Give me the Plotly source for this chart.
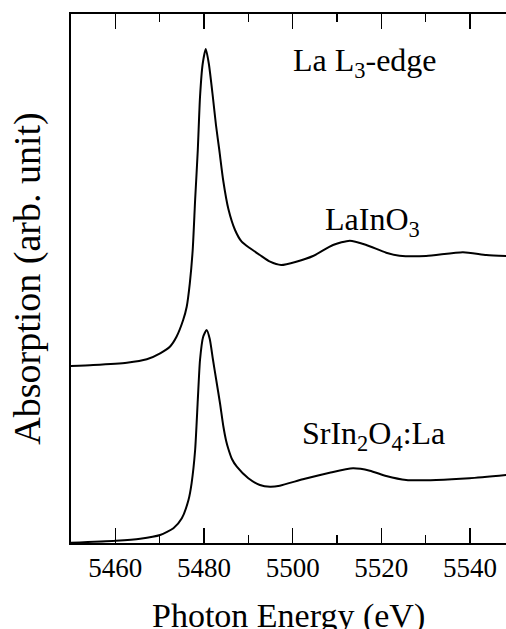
import plotly.graph_objects as go

# LaInO3 spectrum (arb. units, offset)
energy_lainO3 = [5450.0, 5455.0, 5462.6, 5467.1, 5470.1, 5472.3, 5473.8, 5475.3, 5476.1,
                 5476.8, 5477.45, 5478.0, 5478.6, 5479.1, 5479.7, 5480.4, 5481.1, 5482.0,
                 5482.7, 5483.45, 5484.35, 5485.5, 5487.0, 5488.5, 5490.4, 5492.6, 5494.9,
                 5497.4, 5500.8, 5504.6, 5509.1, 5512.9, 5516.6, 5521.1, 5524.1, 5530.1,
                 5538.4, 5543.7, 5548.2]
abs_lainO3 = [177, 178, 180.3, 183.7, 189.7, 196.3, 206.3, 223, 236.3,
              259.7, 293, 343, 393, 446, 479, 494, 479, 446,
              418, 393, 362, 334, 313, 301.3, 294.7, 288, 281.3,
              278, 281.3, 287, 298, 302.3, 298, 290.3, 287.3, 287,
              290.7, 288, 287]

# SrIn2O4:La spectrum (arb. units)
energy_srin2o4 = [5450.0, 5460.1, 5465.6, 5470.1, 5473.1, 5475.0, 5476.5, 5477.2, 5478.0,
                  5478.6, 5479.1, 5479.8, 5480.6, 5481.3, 5482.0, 5482.8, 5483.6, 5484.35,
                  5485.0, 5485.5, 5486.3, 5487.4, 5490.0, 5492.6, 5494.9, 5497.1, 5502.3,
                  5508.35, 5513.6, 5517.4, 5521.1, 5525.6, 5532.4, 5539.9, 5548.2]
abs_srin2o4 = [0.3, 2.3, 4.3, 8, 14.7, 24.7, 43, 59.7, 93,
               143, 183, 206, 213, 204, 184, 162, 140, 117,
               102, 94, 84, 76.3, 64.7, 58, 56.3, 57.3, 63.7,
               70.3, 74.7, 72.3, 67, 63, 63, 64.7, 68]

x_range = [5450, 5548.12]
y_range = [0, 529]
tick_vals = [5460, 5480, 5500, 5520, 5540]
tick_text = ["5460", "5480", "5500", "5520", "5540"]
minor_vals = [5470, 5490, 5510, 5530]

FONT = "Liberation Serif, Times New Roman, serif"

fig = go.Figure()
fig.add_trace(go.Scatter(x=energy_lainO3, y=abs_lainO3, mode="lines",
                         line=dict(color="black", width=2, shape="spline", smoothing=0.6),
                         showlegend=False, hoverinfo="skip"))
fig.add_trace(go.Scatter(x=energy_srin2o4, y=abs_srin2o4, mode="lines",
                         line=dict(color="black", width=2, shape="spline", smoothing=0.6),
                         showlegend=False, hoverinfo="skip"))

fig.update_layout(
    width=506, height=629,
    margin=dict(l=71, r=0, t=14, b=86),
    plot_bgcolor="white", paper_bgcolor="white",
    font=dict(family=FONT, color="black"),
    xaxis=dict(
        automargin=False,
        range=x_range, showgrid=False, zeroline=False,
        showline=True, linecolor="black", linewidth=2, mirror="ticks",
        ticks="inside", ticklen=15, tickwidth=1.5, tickcolor="black",
        tickvals=tick_vals, ticktext=tick_text,
        tickfont=dict(family=FONT, size=27, color="black"),
        minor=dict(ticks="inside", ticklen=8, tickwidth=1.5, tickcolor="black",
                   tickvals=minor_vals),
    ),
    yaxis=dict(
        automargin=False,
        range=y_range, showgrid=False, zeroline=False,
        showline=True, linecolor="black", linewidth=2, mirror=False,
        ticks="", showticklabels=False,
        title=dict(text="Absorption (arb. unit)", font=dict(family=FONT, size=38, color="black"),
                   standoff=17),
    ),
    annotations=[
        dict(text="Photon Energy (eV)", x=0.5, y=-0.138, xref="paper", yref="paper",
             xanchor="center", yanchor="middle", showarrow=False,
             font=dict(family=FONT, size=34, color="black")),
        dict(text="La L<sub>3</sub>-edge", x=5516.4, y=481, xref="x", yref="y",
             showarrow=False, font=dict(family=FONT, size=32, color="black")),
        dict(text="LaInO<sub>3</sub>", x=5518.1, y=322, xref="x", yref="y",
             showarrow=False, font=dict(family=FONT, size=32, color="black")),
        dict(text="SrIn<sub>2</sub>O<sub>4</sub>:La", x=5518.3, y=108, xref="x", yref="y",
             showarrow=False, font=dict(family=FONT, size=32, color="black")),
    ],
)

fig.write_html("out.html",
               config={"displayModeBar": False, "staticPlot": True},
               post_script="document.body.style.margin='0';document.body.style.overflow='hidden';")
